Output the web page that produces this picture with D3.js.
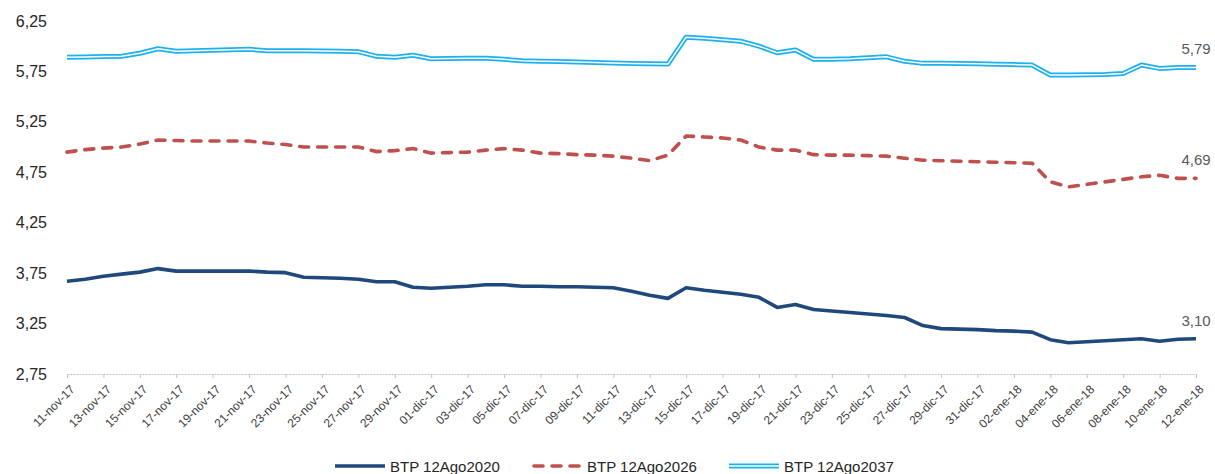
<!DOCTYPE html>
<html>
<head>
<meta charset="utf-8">
<script src="https://cdn.jsdelivr.net/npm/d3@7"></script>
<style>
  body { margin: 0; background: #fff; font-family: "Liberation Sans", Arial, sans-serif; }
  svg { display: block; }
</style>
</head>
<body>
<script>
const w = 1215;
const h = 474;
const m = {top: 21, right: 19, bottom: 100, left: 67};

// one value per day, 11-nov-17 .. 12-ene-18
const firstDay = new Date(2017, 10, 11);
const lastDay = new Date(2018, 0, 12);

const btp2020 = [
  3.67, 3.69, 3.72, 3.74, 3.76, 3.795, 3.77, 3.77, 3.77, 3.77,
  3.77, 3.76, 3.755, 3.71, 3.705, 3.70, 3.69, 3.665, 3.665, 3.61,
  3.60, 3.61, 3.62, 3.635, 3.635, 3.62, 3.62, 3.615, 3.615, 3.61,
  3.605, 3.57, 3.53, 3.50, 3.605, 3.58, 3.56, 3.54, 3.51, 3.41,
  3.44, 3.39, 3.375, 3.36, 3.345, 3.33, 3.31, 3.23, 3.20, 3.195,
  3.19, 3.18, 3.175, 3.165, 3.09, 3.06, 3.07, 3.08, 3.09, 3.10,
  3.075, 3.095, 3.10
];

const btp2026 = [
  4.95, 4.975, 4.99, 5.00, 5.03, 5.07, 5.065, 5.06, 5.06, 5.06,
  5.06, 5.04, 5.025, 5.00, 5.00, 5.00, 5.00, 4.955, 4.965, 4.985,
  4.94, 4.945, 4.95, 4.97, 4.985, 4.97, 4.94, 4.935, 4.925, 4.92,
  4.91, 4.89, 4.865, 4.92, 5.11, 5.10, 5.09, 5.07, 5.00, 4.97,
  4.97, 4.925, 4.92, 4.92, 4.915, 4.91, 4.89, 4.87, 4.865, 4.86,
  4.855, 4.85, 4.845, 4.84, 4.655, 4.605, 4.63, 4.655, 4.68, 4.705,
  4.72, 4.69, 4.69
];

const btp2037 = [
  5.89, 5.893, 5.897, 5.90, 5.93, 5.975, 5.95, 5.955, 5.96, 5.965,
  5.97, 5.955, 5.955, 5.955, 5.952, 5.95, 5.946, 5.90, 5.89, 5.91,
  5.875, 5.878, 5.88, 5.88, 5.87, 5.856, 5.852, 5.848, 5.843, 5.838,
  5.833, 5.828, 5.825, 5.823, 6.09, 6.08, 6.065, 6.05, 6.00, 5.935,
  5.963, 5.87, 5.87, 5.875, 5.885, 5.895, 5.85, 5.83, 5.83, 5.828,
  5.825, 5.82, 5.818, 5.813, 5.714, 5.714, 5.717, 5.72, 5.73, 5.813,
  5.78, 5.79, 5.79
];

const seriesNames = ['BTP 12Ago2020', 'BTP 12Ago2026', 'BTP 12Ago2037'];
const yTicks = [2.75, 3.25, 3.75, 4.25, 4.75, 5.25, 5.75, 6.25];

const days = d3.timeDay.range(firstDay, d3.timeDay.offset(lastDay, 1));
const xTicks = days.filter((d, i) => i % 2 === 0);

const num = d3.formatLocale({decimal: ',', thousands: '.', grouping: [3], currency: ['', '']}).format('.2f');
const esDate = d3.timeFormatLocale({
  dateTime: '%x %X', date: '%d/%m/%Y', time: '%H:%M:%S', periods: ['', ''],
  days: ['domingo', 'lunes', 'martes', 'miércoles', 'jueves', 'viernes', 'sábado'],
  shortDays: ['dom', 'lun', 'mar', 'mié', 'jue', 'vie', 'sáb'],
  months: ['enero', 'febrero', 'marzo', 'abril', 'mayo', 'junio', 'julio', 'agosto', 'septiembre', 'octubre', 'noviembre', 'diciembre'],
  shortMonths: ['ene', 'feb', 'mar', 'abr', 'may', 'jun', 'jul', 'ago', 'sep', 'oct', 'nov', 'dic']
}).format('%d-%b-%y');

const svg = d3.select('body').append('svg')
  .attr('width', w)
  .attr('height', h);

const x = d3.scaleTime()
  .domain([firstDay, lastDay])
  .range([m.left, w - m.right]);

const y = d3.scaleLinear()
  .domain([2.75, 6.25])
  .range([h - m.bottom, m.top]);

// y labels, no gridlines
const yAxis = svg.append('g')
  .attr('transform', `translate(${m.left - 20},0)`)
  .call(d3.axisLeft(y).tickValues(yTicks).tickFormat(num).tickSize(0).tickPadding(0));
yAxis.select('.domain').remove();
yAxis.selectAll('text')
  .attr('fill', '#262626')
  .style('font-size', '16px')
  .style('font-family', '"Liberation Sans", Arial, sans-serif');

const xAxis = svg.append('g')
  .attr('transform', `translate(0,${y(2.75)})`)
  .call(d3.axisBottom(x).tickValues(xTicks).tickFormat(esDate).tickSize(4).tickSizeOuter(0));
xAxis.select('.domain')
  .attr('stroke', '#c4c4c4')
  .attr('stroke-dasharray', '2,1');
xAxis.selectAll('.tick line').attr('stroke', '#c4c4c4');
xAxis.selectAll('text')
  .attr('x', 0)
  .attr('y', 0)
  .attr('dy', '0.35em')
  .attr('transform', 'translate(5,13) rotate(-45)')
  .attr('fill', '#404040')
  .style('text-anchor', 'end')
  .style('font-size', '12px')
  .style('font-family', '"Liberation Sans", Arial, sans-serif');

const line = d3.line()
  .x((d, i) => x(days[i]))
  .y(d => y(d));

// BTP12Ago2037: double line
svg.append('path')
  .datum(btp2037)
  .attr('fill', 'none')
  .attr('stroke', '#1cb1ee')
  .attr('stroke-width', 5)
  .attr('stroke-linejoin', 'round')
  .attr('d', line);
svg.append('path')
  .datum(btp2037)
  .attr('fill', 'none')
  .attr('stroke', '#ffffff')
  .attr('stroke-width', 1.5)
  .attr('stroke-linejoin', 'round')
  .attr('d', line);

svg.append('path')
  .datum(btp2026)
  .attr('fill', 'none')
  .attr('stroke', '#c0504d')
  .attr('stroke-width', 3.6)
  .attr('stroke-dasharray', '9,9')
  .attr('stroke-linecap', 'round')
  .attr('d', line);

svg.append('path')
  .datum(btp2020)
  .attr('fill', 'none')
  .attr('stroke', '#1f497d')
  .attr('stroke-width', 3.6)
  .attr('stroke-linejoin', 'round')
  .attr('d', line);

// last value labels
const last = days.length - 1;
svg.append('g')
  .selectAll('text')
  .data([btp2037[last], btp2026[last], btp2020[last]])
  .join('text')
    .attr('x', x(days[last]))
    .attr('y', d => y(d) - 13)
    .attr('text-anchor', 'middle')
    .attr('fill', '#595959')
    .style('font-size', '15px')
    .text(d => num(d));

// legend
const legend = svg.append('g')
  .attr('transform', 'translate(335,466)');

const item = legend.selectAll('g')
  .data(seriesNames)
  .join('g')
    .attr('transform', (d, i) => `translate(${i * 197},0)`);

item.filter((d, i) => i === 0).append('line')
  .attr('x2', 50)
  .attr('stroke', '#1f497d')
  .attr('stroke-width', 3.6);

item.filter((d, i) => i === 1).append('line')
  .attr('x1', 2)
  .attr('x2', 48)
  .attr('stroke', '#c0504d')
  .attr('stroke-width', 3.6)
  .attr('stroke-dasharray', '9,9')
  .attr('stroke-linecap', 'round');

const dbl = item.filter((d, i) => i === 2);
dbl.append('line')
  .attr('x2', 50)
  .attr('stroke', '#1cb1ee')
  .attr('stroke-width', 5);
dbl.append('line')
  .attr('x2', 50)
  .attr('stroke', '#fff')
  .attr('stroke-width', 1.5);

item.append('text')
  .attr('x', 55)
  .attr('y', 6)
  .attr('fill', '#262626')
  .style('font-size', '15px')
  .text(d => d);
</script>
</body>
</html>
